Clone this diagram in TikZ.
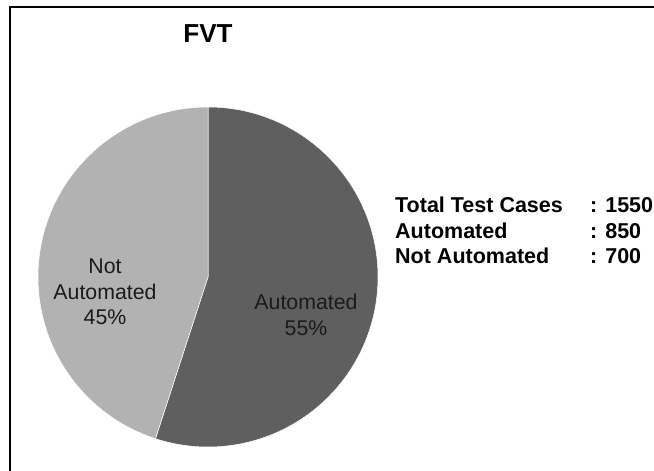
\documentclass[tikz,border=0pt]{standalone}
\usepackage{fontspec}
\setmainfont{Liberation Sans}
\usetikzlibrary{positioning}
\definecolor{autogray}{HTML}{5F5F5F}
\definecolor{notgray}{HTML}{B2B2B2}
\definecolor{inktext}{HTML}{1A1A1A}

\begin{document}
\begin{tikzpicture}[x=1pt,y=1pt, every node/.style={font=\fontsize{21.3}{25.5}\selectfont}]
\tikzstyle{slice}=[draw=white,line width=0.5pt]
\tikzstyle{lbl}=[align=center,text=inktext,inner sep=0pt]
\tikzstyle{stat}=[font=\bfseries\fontsize{21.5}{25}\selectfont,anchor=base west,inner sep=0pt]
\useasboundingbox (0,0) rectangle (654,-471);
\draw[line width=2.6pt] (10,-471) -- (10,-7) -- (654,-7);
\coordinate (c) at (208,-277);
\filldraw[slice,fill=autogray] (c) -- ++(90:170) arc (90:-108:170) -- cycle;
\filldraw[slice,fill=notgray] (c) -- ++(90:170) arc (90:252:170) -- cycle;
\node[font=\bfseries\fontsize{26}{30}\selectfont] (title) at (208,-34) {FVT};
\node[lbl] (notlbl) at (105,-292) {Not\\Automated\\45\%};
\node[lbl] (autolbl) at (306,-315) {Automated\\55\%};
\node[stat] (total) at (395,-212) {Total Test Cases};
\node[stat] (auto) at (395,-238) {Automated};
\node[stat] (notauto) at (395,-263) {Not Automated};
\node[stat] (totalval) at (590,-212) {: 1550};
\node[stat] (autoval) at (590,-238) {: 850};
\node[stat] (notautoval) at (590,-263) {: 700};
\end{tikzpicture}
\end{document}
